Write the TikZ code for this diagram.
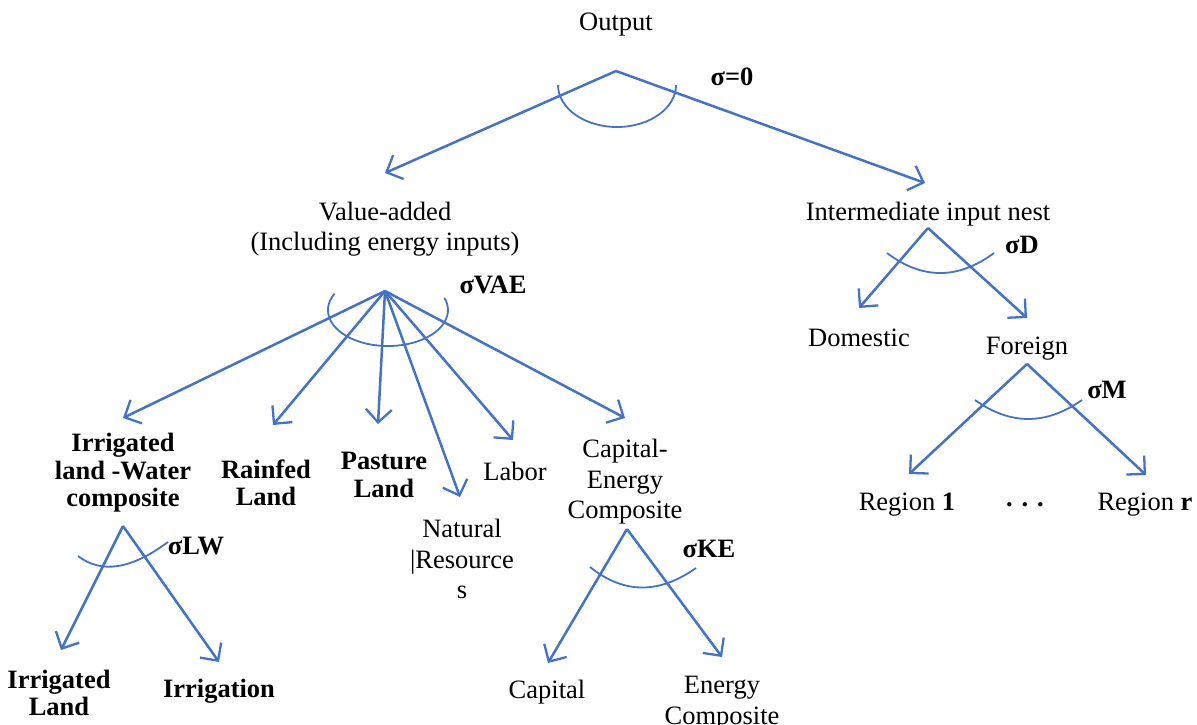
\documentclass[tikz,border=0pt]{standalone}
\usepackage{fontspec}
\setmainfont{Liberation Serif}
\usetikzlibrary{arrows.meta}
\definecolor{lineblue}{RGB}{68,114,196}
\tikzset{
  conn/.style={draw=lineblue, line width=2.5pt, -{Straight Barb[length=13pt,width=26pt,line width=2.3pt]}},
  sigarc/.style={draw=lineblue, line width=1.8pt},
  lbl/.style={inner sep=0pt, align=center, yshift=-3pt, font=\fontsize{26.5}{30.5}\selectfont},
  blbl/.style={inner sep=0pt, align=center, yshift=-3pt, font=\fontsize{26.5}{27.5}\selectfont\bfseries},
}
\begin{document}
\begin{tikzpicture}[x=1pt,y=1pt]
\useasboundingbox (0,0) rectangle (1197,-725);
% --- text nodes
\node[lbl] (out) at (616,-22) {Output};
\node[blbl] (s0) at (732,-74) {σ=0};
\node[lbl] (va) at (385,-226) {Value-added\\(Including energy inputs)};
\node[lbl] (inn) at (928,-211) {Intermediate input nest};
\node[blbl] (svae) at (493,-282) {σVAE};
\node[blbl] (sd) at (1022,-242) {σD};
\node[lbl] (dom) at (859,-335) {Domestic};
\node[lbl] (for) at (1027,-346) {Foreign};
\node[blbl] (sm) at (1107,-387) {σM};
\node[lbl] (r1) at (907,-502) {Region \textbf{1}};
\node[lbl] (dots) at (1025,-502) {\textbf{. . .}};
\node[lbl] (rr) at (1145,-502) {Region \textbf{r}};
\node[blbl] (ilw) at (123,-470) {Irrigated\\land -Water\\composite};
\node[blbl] (rf) at (266,-480) {Rainfed\\Land};
\node[blbl] (pl) at (384,-472) {Pasture\\Land};
\node[lbl] (nr) at (462,-556) {Natural\\|Resource\\s};
\node[lbl] (lab) at (515,-468) {Labor};
\node[lbl] (ke) at (625,-479) {Capital-\\Energy\\Composite};
\node[blbl] (slw) at (196,-543) {σLW};
\node[blbl] (ske) at (709,-546) {σKE};
\node[blbl] (il) at (59,-690) {Irrigated\\Land};
\node[blbl] (irr) at (219,-688) {Irrigation};
\node[lbl] (cap) at (547,-689) {Capital};
\node[lbl] (ec) at (722,-700) {Energy\\Composite};
% --- apex / tip coordinates
\coordinate (aT) at (616,-71);
\coordinate (tVA) at (385,-173);
\coordinate (tIN) at (925,-183);
\coordinate (aVA) at (385,-291);
\coordinate (tILW) at (123,-418);
\coordinate (tRF) at (273,-425);
\coordinate (tPL) at (378,-424);
\coordinate (tNR) at (460,-497);
\coordinate (tLAB) at (513,-440);
\coordinate (tKE) at (625,-418);
\coordinate (aIN) at (928,-228);
\coordinate (tDOM) at (859,-308);
\coordinate (tFOR) at (1027,-318);
\coordinate (aFOR) at (1027,-364);
\coordinate (tR1) at (909,-474);
\coordinate (tRR) at (1146,-475);
\coordinate (aLW) at (123,-526);
\coordinate (tIL) at (61,-650);
\coordinate (tIRR) at (219,-662);
\coordinate (aKE) at (627,-529);
\coordinate (tCAP) at (548,-663);
\coordinate (tEC) at (722,-657);
% --- connectors
\draw[conn] (aT) -- (tVA);
\draw[conn] (aT) -- (tIN);
\draw[conn] (aVA) -- (tILW);
\draw[conn] (aVA) -- (tRF);
\draw[conn] (aVA) -- (tPL);
\draw[conn] (aVA) -- (tNR);
\draw[conn] (aVA) -- (tLAB);
\draw[conn] (aVA) -- (tKE);
\draw[conn] (aIN) -- (tDOM);
\draw[conn] (aIN) -- (tFOR);
\draw[conn] (aFOR) -- (tR1);
\draw[conn] (aFOR) -- (tRR);
\draw[conn] (aLW) -- (tIL);
\draw[conn] (aLW) -- (tIRR);
\draw[conn] (aKE) -- (tCAP);
\draw[conn] (aKE) -- (tEC);
% --- elasticity arcs
\draw[sigarc] (558,-85) arc[start angle=180,end angle=360,x radius=59,y radius=42];
\draw[sigarc] (334.5,-293.7) arc[start angle=153,end angle=380,x radius=60,y radius=36];
\draw[sigarc] (887,-253) .. controls (922.3,-279.7) and (958,-279.7) .. (994,-253);
\draw[sigarc] (975,-400) .. controls (1010.3,-425.3) and (1046,-425.3) .. (1082,-400);
\draw[sigarc] (78,-556) .. controls (101.3,-574) and (131.3,-569.3) .. (168,-542);
\draw[sigarc] (590,-567) .. controls (624,-594.3) and (659.3,-594) .. (696,-568);
\end{tikzpicture}
\end{document}
